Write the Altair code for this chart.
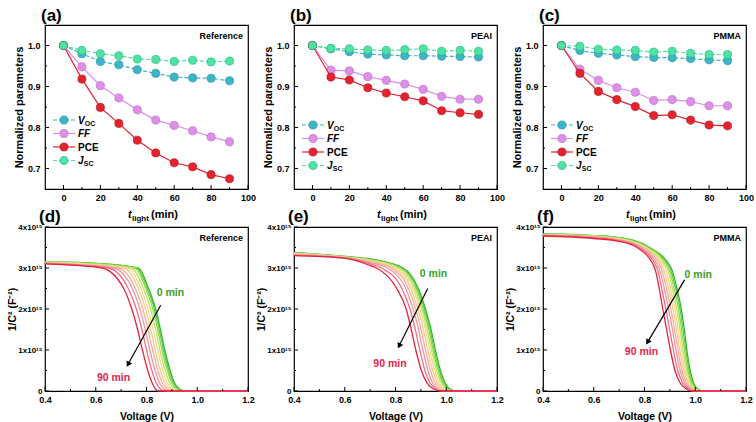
import altair as alt
import pandas as pd

FONT = "Liberation Sans"
W, H = 203, 164

# ---------------- data: top row (normalized parameters vs t_light) ----------------
time_min = [0, 10, 20, 30, 40, 50, 60, 70, 80, 90]

ref_voc = [1.000, 0.980, 0.961, 0.953, 0.941, 0.932, 0.923, 0.921, 0.920, 0.914]
ref_ff = [1.000, 0.948, 0.902, 0.872, 0.843, 0.818, 0.805, 0.792, 0.777, 0.765]
ref_pce = [1.000, 0.918, 0.849, 0.810, 0.769, 0.738, 0.714, 0.704, 0.685, 0.675]
ref_jsc = [1.000, 0.988, 0.980, 0.975, 0.967, 0.966, 0.961, 0.964, 0.960, 0.962]

peai_voc = [1.000, 0.992, 0.985, 0.979, 0.977, 0.975, 0.975, 0.974, 0.973, 0.972]
peai_ff = [1.000, 0.940, 0.938, 0.924, 0.915, 0.906, 0.893, 0.876, 0.869, 0.869]
peai_pce = [1.000, 0.923, 0.916, 0.897, 0.884, 0.875, 0.865, 0.841, 0.836, 0.832]
peai_jsc = [1.000, 0.993, 0.992, 0.989, 0.988, 0.990, 0.992, 0.986, 0.988, 0.986]

pmma_voc = [1.000, 0.988, 0.981, 0.977, 0.973, 0.971, 0.970, 0.968, 0.965, 0.963]
pmma_ff = [1.000, 0.942, 0.915, 0.897, 0.886, 0.866, 0.868, 0.863, 0.853, 0.853]
pmma_pce = [1.000, 0.932, 0.888, 0.868, 0.851, 0.829, 0.831, 0.818, 0.806, 0.804]
pmma_jsc = [1.000, 0.998, 0.991, 0.989, 0.988, 0.984, 0.986, 0.981, 0.978, 0.978]

top_x_ticks = [0, 20, 40, 60, 80, 100]
top_x_minor = [10, 30, 50, 70, 90]
top_y_ticks = [0.7, 0.8, 0.9, 1.0]
top_y_minor = [0.75, 0.85, 0.95]

# ---------------- data: bottom row (1/C^2 vs voltage, unit 1e15) ----------------
# each curve: values at the plateau voltages, then the voltage where the curve
# crosses each of the listed 1/C^2 levels
ref_cv_v0 = [0.40, 0.55]
ref_cv_plateau = [[3.15, 3.13], [3.15, 3.13], [3.14, 3.12], [3.14, 3.11], [3.13, 3.10],
                  [3.13, 3.09], [3.12, 3.08], [3.12, 3.07], [3.11, 3.06], [3.10, 3.05]]
ref_cv_levels = [3.0, 2.5, 2.0, 1.5, 1.0, 0.5, 0.2, 0.05, 0.0]
ref_cv_cross = [
    [0.768, 0.808, 0.836, 0.855, 0.872, 0.893, 0.910, 0.930, 0.955],
    [0.762, 0.803, 0.831, 0.850, 0.867, 0.888, 0.905, 0.925, 0.950],
    [0.755, 0.797, 0.825, 0.844, 0.861, 0.882, 0.899, 0.919, 0.944],
    [0.740, 0.788, 0.816, 0.836, 0.853, 0.874, 0.891, 0.911, 0.936],
    [0.725, 0.778, 0.806, 0.826, 0.844, 0.865, 0.882, 0.902, 0.927],
    [0.710, 0.768, 0.796, 0.816, 0.834, 0.855, 0.872, 0.892, 0.916],
    [0.690, 0.756, 0.785, 0.806, 0.824, 0.845, 0.862, 0.881, 0.905],
    [0.670, 0.744, 0.774, 0.795, 0.813, 0.834, 0.851, 0.869, 0.892],
    [0.650, 0.728, 0.760, 0.782, 0.800, 0.821, 0.838, 0.855, 0.876],
    [0.625, 0.710, 0.742, 0.765, 0.784, 0.805, 0.822, 0.835, 0.850],
]

peai_cv_v0 = [0.40, 0.60, 0.70]
peai_cv_plateau = [[3.38, 3.28, 3.22], [3.37, 3.28, 3.21], [3.37, 3.27, 3.20], [3.36, 3.27, 3.19],
                   [3.35, 3.26, 3.18], [3.34, 3.26, 3.17], [3.33, 3.25, 3.15], [3.32, 3.25, 3.13],
                   [3.31, 3.24, 3.10], [3.30, 3.24, 3.06]]
peai_cv_levels = [3.0, 2.5, 2.0, 1.5, 1.0, 0.5, 0.2, 0.05, 0.0]
peai_cv_cross = [
    [0.830, 0.890, 0.918, 0.940, 0.957, 0.977, 0.995, 1.015, 1.040],
    [0.825, 0.886, 0.914, 0.936, 0.953, 0.973, 0.991, 1.011, 1.036],
    [0.820, 0.881, 0.909, 0.931, 0.948, 0.968, 0.986, 1.006, 1.031],
    [0.812, 0.875, 0.903, 0.925, 0.942, 0.962, 0.980, 1.000, 1.025],
    [0.803, 0.868, 0.896, 0.918, 0.935, 0.955, 0.973, 0.993, 1.018],
    [0.793, 0.860, 0.888, 0.910, 0.927, 0.947, 0.965, 0.985, 1.010],
    [0.782, 0.851, 0.879, 0.901, 0.918, 0.938, 0.956, 0.976, 1.001],
    [0.768, 0.840, 0.869, 0.891, 0.908, 0.928, 0.946, 0.967, 0.992],
    [0.745, 0.825, 0.857, 0.878, 0.896, 0.916, 0.936, 0.959, 0.984],
    [0.725, 0.805, 0.842, 0.862, 0.880, 0.902, 0.924, 0.950, 0.975],
]

pmma_cv_v0 = [0.40, 0.60, 0.70]
pmma_cv_plateau = [[3.83, 3.79, 3.74], [3.83, 3.79, 3.74], [3.82, 3.78, 3.73], [3.82, 3.78, 3.72],
                   [3.81, 3.77, 3.71], [3.81, 3.76, 3.70], [3.80, 3.76, 3.69], [3.80, 3.75, 3.68],
                   [3.79, 3.74, 3.67], [3.78, 3.72, 3.65]]
pmma_cv_levels = [3.5, 3.0, 2.5, 2.0, 1.5, 1.0, 0.5, 0.2, 0.05, 0.0]
pmma_cv_cross = [
    [0.820, 0.905, 0.928, 0.945, 0.957, 0.967, 0.980, 0.993, 1.010, 1.035],
    [0.817, 0.900, 0.923, 0.940, 0.952, 0.963, 0.976, 0.990, 1.007, 1.032],
    [0.813, 0.895, 0.917, 0.934, 0.946, 0.958, 0.971, 0.986, 1.004, 1.029],
    [0.809, 0.888, 0.910, 0.927, 0.940, 0.952, 0.966, 0.981, 1.000, 1.025],
    [0.805, 0.881, 0.903, 0.920, 0.933, 0.946, 0.960, 0.976, 0.996, 1.021],
    [0.800, 0.873, 0.895, 0.912, 0.926, 0.939, 0.954, 0.971, 0.991, 1.016],
    [0.794, 0.865, 0.887, 0.904, 0.918, 0.932, 0.947, 0.965, 0.986, 1.010],
    [0.787, 0.857, 0.878, 0.895, 0.910, 0.924, 0.940, 0.958, 0.980, 1.003],
    [0.779, 0.849, 0.868, 0.884, 0.899, 0.914, 0.931, 0.950, 0.973, 0.995],
    [0.770, 0.840, 0.858, 0.872, 0.887, 0.902, 0.920, 0.940, 0.965, 0.985],
]
cv_end_v = 1.2

bot_x_ticks = [0.4, 0.6, 0.8, 1.0, 1.2]
bot_x_minor = [0.5, 0.7, 0.9, 1.1]
bot_y_ticks = [0, 1, 2, 3, 4]
bot_y_minor = [0.5, 1.5, 2.5, 3.5]

# arrows: [v_start, y_start, v_end, y_end]; labels: [v, y]
ref_arrow = [0.856, 2.09, 0.729, 0.67]
peai_arrow = [0.927, 2.50, 0.816, 1.12]
pmma_arrow = [0.958, 2.71, 0.814, 1.21]
ref_lbl0, ref_lbl90 = [0.894, 2.38], [0.670, 0.31]
peai_lbl0, peai_lbl90 = [0.950, 2.86], [0.778, 0.67]
pmma_lbl0, pmma_lbl90 = [1.012, 2.82], [0.788, 0.94]

curve_colors = ["#2FB52F", "#5CCB3E", "#8FD84F", "#C4E06A", "#EEE08A",
                "#F6CB8E", "#F5B198", "#F296A4", "#EE6F8A", "#E6223E"]

SERIES_STYLE = [
    ("#3DB5C6", "#1F8E9E", True, "V", "OC", "italic", 6.8),
    ("#DE8FE8", "#B066BC", False, "FF", "", "italic", 0),
    ("#E5232F", "#A3121C", False, "PCE", "", "normal", 0),
    ("#4EE3A3", "#22B279", True, "J", "SC", "italic", 5.8),
]


def one_row():
    return pd.DataFrame({"k": [0]})


def label(text, x, y, size, color="black", style="normal", align="left", baseline="alphabetic"):
    return alt.Chart(one_row()).mark_text(
        text=text, font=FONT, fontSize=size, fontWeight="bold", fontStyle=style,
        color=color, align=align, baseline=baseline,
    ).encode(x=alt.value(x), y=alt.value(y))


def axis(values, title, label_size=9, fmt=None, label_expr=None, label_padding=3, title_padding=3, title_size=11):
    kw = dict(values=values, ticks=False, tickSize=0, domain=False, grid=False,
              labelFont=FONT, labelFontSize=label_size, labelFontWeight="bold", labelColor="black",
              labelPadding=label_padding, labelFlush=False, labelOverlap=False)
    if title is None:
        kw["title"] = None
    else:
        kw.update(title=title, titleFont=FONT, titleFontSize=title_size, titleFontWeight="bold",
                  titleColor="black", titlePadding=title_padding)
    if fmt:
        kw["format"] = fmt
    if label_expr:
        kw["labelExpr"] = label_expr
    return alt.Axis(**kw)


def tick_layers(X, Y, xmaj, xmin, ymaj, ymin):
    out = []
    for vals, ln in ((xmaj, 4), (xmin, 2)):
        out.append(alt.Chart(pd.DataFrame({"x": vals})).mark_rule(color="black", strokeWidth=1)
                   .encode(x=X, y=alt.value(H), y2=alt.value(H - ln)))
    for vals, ln in ((ymaj, 4), (ymin, 2)):
        out.append(alt.Chart(pd.DataFrame({"y": vals})).mark_rule(color="black", strokeWidth=1)
                   .encode(y=Y, x=alt.value(0), x2=alt.value(ln)))
    return out


def top_panel(letter, name, values, leg_y):
    xs = alt.Scale(domain=[-10, 100], nice=False, zero=False)
    ys = alt.Scale(domain=[0.65, 1.05], nice=False, zero=False)
    X = alt.X("x:Q", scale=xs, axis=axis(top_x_ticks, None, label_padding=4))
    Y = alt.Y("y:Q", scale=ys, axis=axis(top_y_ticks, "Normalized parameters", fmt=".1f",
                                          label_padding=5, title_padding=3))
    layers = []
    for (fill, edge, dashed, *_), vals in zip(SERIES_STYLE, values):
        base = alt.Chart(pd.DataFrame({"x": time_min, "y": vals})).encode(x=X, y=Y)
        lk = dict(color=fill, strokeWidth=1.2)
        if dashed:
            lk["strokeDash"] = [4, 2]
        layers.append(base.mark_line(**lk))
        layers.append(base.mark_circle(size=66, fill=fill, stroke=edge, strokeWidth=0.6, opacity=1))
    layers += tick_layers(X, Y, top_x_ticks, top_x_minor, top_y_ticks, top_y_minor)
    # legend
    for i, (fill, edge, dashed, main, sub, style, w) in enumerate(SERIES_STYLE):
        yy = leg_y + i * 13.5
        rk = dict(color=fill, strokeWidth=1.2)
        if dashed:
            rk["strokeDash"] = [4, 2]
        layers.append(alt.Chart(one_row()).mark_rule(**rk)
                      .encode(x=alt.value(8), x2=alt.value(30), y=alt.value(yy)))
        layers.append(alt.Chart(one_row()).mark_circle(size=66, fill=fill, stroke=edge, strokeWidth=0.6, opacity=1)
                      .encode(x=alt.value(19), y=alt.value(yy)))
        layers.append(label(main, 33, yy + 3.5, 10, style=style))
        if sub:
            layers.append(label(sub, 33 + w, yy + 5.5, 7))
    layers.append(label(letter, -4, -4, 17))
    layers.append(label(name, W - 5, 14, 9, align="right"))
    layers.append(label("t", 83, 193, 11, style="italic"))
    layers.append(label("light", 87, 196, 8))
    layers.append(label("(min)", 106, 193, 11))
    return alt.layer(*layers).properties(width=W, height=H)


def bottom_panel(letter, name, v0, plateau, levels, cross, arrow, lbl0, lbl90, head_angle):
    xs = alt.Scale(domain=[0.4, 1.2], nice=False, zero=False)
    ys = alt.Scale(domain=[0, 4], nice=False, zero=False)
    X = alt.X("x:Q", scale=xs, axis=axis(bot_x_ticks, "Voltage (V)", fmt=".1f", label_padding=4,
                                          title_padding=7, title_size=10.5))
    Y = alt.Y("y:Q", scale=ys, axis=axis(bot_y_ticks, "1/C² (F⁻²)", label_size=8,
                                          label_expr="datum.value == 0 ? '0' : datum.value + 'x10¹⁵'",
                                          label_padding=3, title_padding=0, title_size=10.5))
    layers = []
    for i in range(len(time_min)):
        df = pd.DataFrame({"x": v0 + cross[i] + [cv_end_v], "y": plateau[i] + levels + [0.0]})
        layers.append(alt.Chart(df).mark_line(color=curve_colors[i], strokeWidth=1.3, interpolate="monotone")
                      .encode(x=X, y=Y))
    layers += tick_layers(X, Y, bot_x_ticks, bot_x_minor, bot_y_ticks, bot_y_minor)
    adf = pd.DataFrame({"x": [arrow[0]], "y": [arrow[1]], "x2": [arrow[2]], "y2": [arrow[3]]})
    layers.append(alt.Chart(adf).mark_rule(color="black", strokeWidth=1.2)
                  .encode(x=X, y=Y, x2="x2:Q", y2="y2:Q"))
    hdf = pd.DataFrame({"x": [arrow[2]], "y": [arrow[3]]})
    layers.append(alt.Chart(hdf).mark_point(shape="triangle", filled=True, size=40, angle=head_angle,
                                            color="black", opacity=1).encode(x=X, y=Y))
    for pos, txt, col in ((lbl0, "0 min", "#3B9E2A"), (lbl90, "90 min", "#E2244D")):
        tdf = pd.DataFrame({"x": [pos[0]], "y": [pos[1]]})
        layers.append(alt.Chart(tdf).mark_text(text=txt, font=FONT, fontSize=10.5, fontWeight="bold",
                                               color=col, align="center", baseline="middle")
                      .encode(x=X, y=Y))
    layers.append(label(letter, -6, -5, 17))
    layers.append(label(name, W - 5, 14, 9, align="right"))
    return alt.layer(*layers).properties(width=W, height=H)


a = top_panel("(a)", "Reference", [ref_voc, ref_ff, ref_pce, ref_jsc], 95)
b = top_panel("(b)", "PEAI", [peai_voc, peai_ff, peai_pce, peai_jsc], 100)
c = top_panel("(c)", "PMMA", [pmma_voc, pmma_ff, pmma_pce, pmma_jsc], 100)
d = bottom_panel("(d)", "Reference", ref_cv_v0, ref_cv_plateau, ref_cv_levels, ref_cv_cross,
                 ref_arrow, ref_lbl0, ref_lbl90, 209)
e = bottom_panel("(e)", "PEAI", peai_cv_v0, peai_cv_plateau, peai_cv_levels, peai_cv_cross,
                 peai_arrow, peai_lbl0, peai_lbl90, 207)
f = bottom_panel("(f)", "PMMA", pmma_cv_v0, pmma_cv_plateau, pmma_cv_levels, pmma_cv_cross,
                 pmma_arrow, pmma_lbl0, pmma_lbl90, 211)

chart = (
    alt.concat(a, b, c, d, e, f, columns=3, spacing={"row": 38, "column": 46}, bounds="flush")
    .properties(padding={"left": 7, "top": 6, "right": 0, "bottom": 0}, background="white")
    .configure_view(stroke="black", strokeWidth=1.2)
)

chart.save("out.html", embed_options={"renderer": "svg", "actions": False})
